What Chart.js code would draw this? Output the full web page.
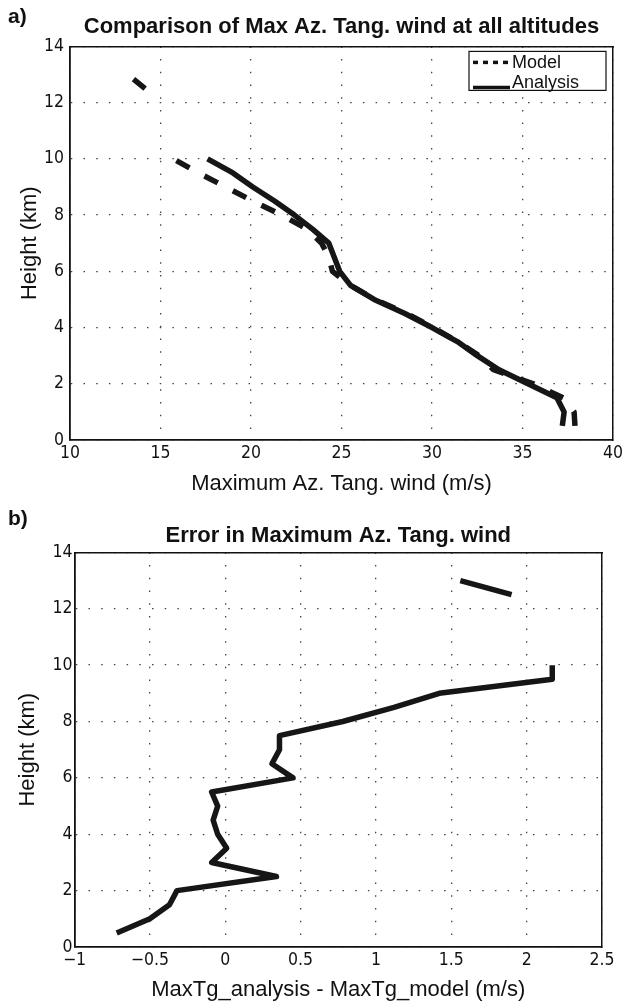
<!DOCTYPE html>
<html>
<head>
<meta charset="utf-8">
<title>Max Az. Tang. wind</title>
<script src="https://cdn.jsdelivr.net/npm/chart.js@4.4.1/dist/chart.umd.min.js"></script>
<style>
html, body { margin: 0; padding: 0; background: #fff; overflow: hidden; }
#marco { position: relative; width: 630px; height: 1002px; }
canvas { position: absolute; left: 0; }
.letra { position: absolute; left: 8px; font: bold 21px "Liberation Sans", Arial, sans-serif; color: #111; }
</style>
</head>
<body>
<div id="marco">
    <canvas id="graficoA" width="630" height="500" style="top:0"></canvas>
    <canvas id="graficoB" width="630" height="520" style="top:500px"></canvas>
    <div class="letra" style="top:4px">a)</div>
    <div class="letra" style="top:506px">b)</div>
</div>
<script>
// alturas en km (cada 0.5 km)
const alturas = [0.5,1,1.5,2,2.5,3,3.5,4,4.5,5,5.5,6,6.5,7,7.5,8,8.5,9,9.5,10,10.5,11,11.5,12,12.5,13];
// viento tangencial maximo (m/s)
const vientoModelo   = [37.9,37.85,37.25,35.6,33.4,32.6,31.4,30.05,28.6,26.85,25.5,24.5,24.3,23.9,23.1,21.7,20.1,18.6,17.1,15.7,null,null,null,null,14.15,13.2];
const vientoAnalisis = [37.2,37.3,36.9,35.3,33.7,32.5,31.4,30.0,28.5,26.8,25.5,24.9,24.6,24.3,23.4,22.4,21.3,20.1,19.0,17.6,null,null,null,null,null,null];
// analisis - modelo (m/s)
const errorViento    = [-0.72,-0.5,-0.37,-0.32,0.34,-0.09,0.01,-0.05,-0.08,-0.05,-0.09,0.45,0.31,0.36,0.36,0.78,1.12,1.42,2.17,2.17,null,null,null,null,1.9,1.56];

const ticksX_A = [10,15,20,25,30,35,40];
const ticksX_B = [-1,-0.5,0,0.5,1,1.5,2,2.5];
const ticksY   = [0,2,4,6,8,10,12,14];

const fuenteTick = {family: '"Liberation Sans Narrow", "DejaVu Sans Condensed", sans-serif', size: 17.5};
const fuenteTexto = '"Liberation Sans", Arial, sans-serif';

function puntos(valores){
    return alturas.map((h, i) => ({x: valores[i], y: h}));
}

function etiqueta(v){
    return v < 0 ? '\u2212' + Math.abs(v) : String(v);
}

// leyenda dentro del area, arriba a la derecha
const leyendaCaja = {
    id: 'leyendaCaja',
    afterDraw(chart){
        const ctx = chart.ctx;
        const area = chart.chartArea;
        const ds = chart.data.datasets;
        const w = 137, h = 39;
        const x0 = area.right - 7 - w, y0 = area.top + 5;
        ctx.save();
        ctx.fillStyle = '#fff';
        ctx.fillRect(x0, y0, w, h);
        ctx.strokeStyle = '#111';
        ctx.lineWidth = 1.2;
        ctx.strokeRect(x0, y0, w, h);
        ctx.font = '18px ' + fuenteTexto;
        ctx.textBaseline = 'alphabetic';
        for (let i = 0; i < ds.length; i++){
            const yl = y0 + 11 + i * 20;
            const ys = i == 0 ? yl : yl + 5;
            ctx.beginPath();
            ctx.setLineDash(i == 0 ? [5, 5] : []);
            ctx.lineWidth = 3.5;
            ctx.strokeStyle = '#111';
            ctx.moveTo(x0 + 4, ys);
            ctx.lineTo(x0 + 41, ys);
            ctx.stroke();
            ctx.setLineDash([]);
            ctx.fillStyle = '#111';
            ctx.fillText(ds[i].label, x0 + 43, yl + 6);
        }
        ctx.restore();
    }
};

function ejes(ticksX, titX, padX, altoX, padYtit, padTick){
    const grilla = {color: '#444', lineWidth: 1.3, drawTicks: false};
    const borde = {color: '#111', width: 1.8, dash: [1.5, 11.2]};
    return {
        x: {
            type: 'linear', position: 'bottom',
            min: ticksX[0], max: ticksX[ticksX.length - 1],
            afterBuildTicks: s => { s.ticks = ticksX.map(v => ({value: v})); },
            afterFit: s => { s.height = altoX; },
            grid: grilla, border: borde,
            ticks: {font: fuenteTick, color: '#111', padding: 3, maxRotation: 0, callback: etiqueta},
            title: {display: true, text: titX, color: '#111', font: {family: fuenteTexto, size: 22}, padding: {top: 0, bottom: padX}}
        },
        y: {
            type: 'linear', position: 'left',
            min: 0, max: 14,
            afterBuildTicks: s => { s.ticks = ticksY.map(v => ({value: v})); },
            afterFit: s => { s.width = s.chart.options.layout.anchoIzq; },
            grid: grilla, border: borde,
            ticks: {font: fuenteTick, color: '#111', padding: padTick, callback: etiqueta},
            title: {display: true, text: 'Height (km)', color: '#111', font: {family: fuenteTexto, size: 22}, padding: {top: padYtit, bottom: 0}}
        },
        xArriba: {
            type: 'linear', position: 'top', min: 0, max: 1,
            afterFit: s => { s.height = 0; },
            grid: {display: false}, ticks: {display: false},
            border: {color: '#111', width: 1.5}
        },
        yDerecha: {
            type: 'linear', position: 'right', min: 0, max: 1,
            afterFit: s => { s.width = s.chart.options.layout.anchoDer; },
            grid: {display: false}, ticks: {display: false},
            border: {color: '#111', width: 1.5}
        }
    };
}

function graficoA(){
    const ctx = document.getElementById('graficoA').getContext('2d');
    new Chart(ctx, {
        type: 'scatter',
        data: {
            datasets: [{
                label: 'Model',
                data: puntos(vientoModelo),
                showLine: true, borderColor: '#161616', borderWidth: 5.5,
                borderDash: [15, 17], borderCapStyle: 'butt', borderJoinStyle: 'round',
                pointRadius: 0, tension: 0, spanGaps: false
            }, {
                label: 'Analysis',
                data: puntos(vientoAnalisis),
                showLine: true, borderColor: '#161616', borderWidth: 5.5,
                borderCapStyle: 'butt', borderJoinStyle: 'round',
                pointRadius: 0, tension: 0, spanGaps: false
            }]
        },
        options: {
            responsive: false, animation: false, events: [],
            layout: {padding: 0, anchoIzq: 70, anchoDer: 17},
            scales: ejes(ticksX_A, 'Maximum Az. Tang. wind (m/s)', 3, 60, 17, 6),
            plugins: {
                legend: {display: false},
                tooltip: {enabled: false},
                title: {
                    display: true, fullSize: false,
                    text: 'Comparison of Max Az. Tang. wind at all altitudes',
                    color: '#111',
                    font: {family: fuenteTexto, size: 22, weight: 'bold'},
                    padding: {top: 14, bottom: 6}
                }
            }
        },
        plugins: [leyendaCaja]
    });
}

function graficoB(){
    const ctx = document.getElementById('graficoB').getContext('2d');
    new Chart(ctx, {
        type: 'scatter',
        data: {
            datasets: [{
                label: 'Error',
                data: puntos(errorViento),
                showLine: true, borderColor: '#161616', borderWidth: 5.5,
                borderCapStyle: 'butt', borderJoinStyle: 'round',
                pointRadius: 0, tension: 0, spanGaps: false
            }]
        },
        options: {
            responsive: false, animation: false, events: [],
            layout: {padding: 0, anchoIzq: 74.5, anchoDer: 28},
            scales: ejes(ticksX_B, 'MaxTg_analysis - MaxTg_model (m/s)', 17, 73, 15, 2),
            plugins: {
                legend: {display: false},
                tooltip: {enabled: false},
                title: {
                    display: true, fullSize: false,
                    text: 'Error in Maximum Az. Tang. wind',
                    color: '#111',
                    font: {family: fuenteTexto, size: 22, weight: 'bold'},
                    padding: {top: 23, bottom: 3}
                }
            }
        }
    });
}

window.addEventListener('load', () => { graficoA(); graficoB(); });
</script>
</body>
</html>
